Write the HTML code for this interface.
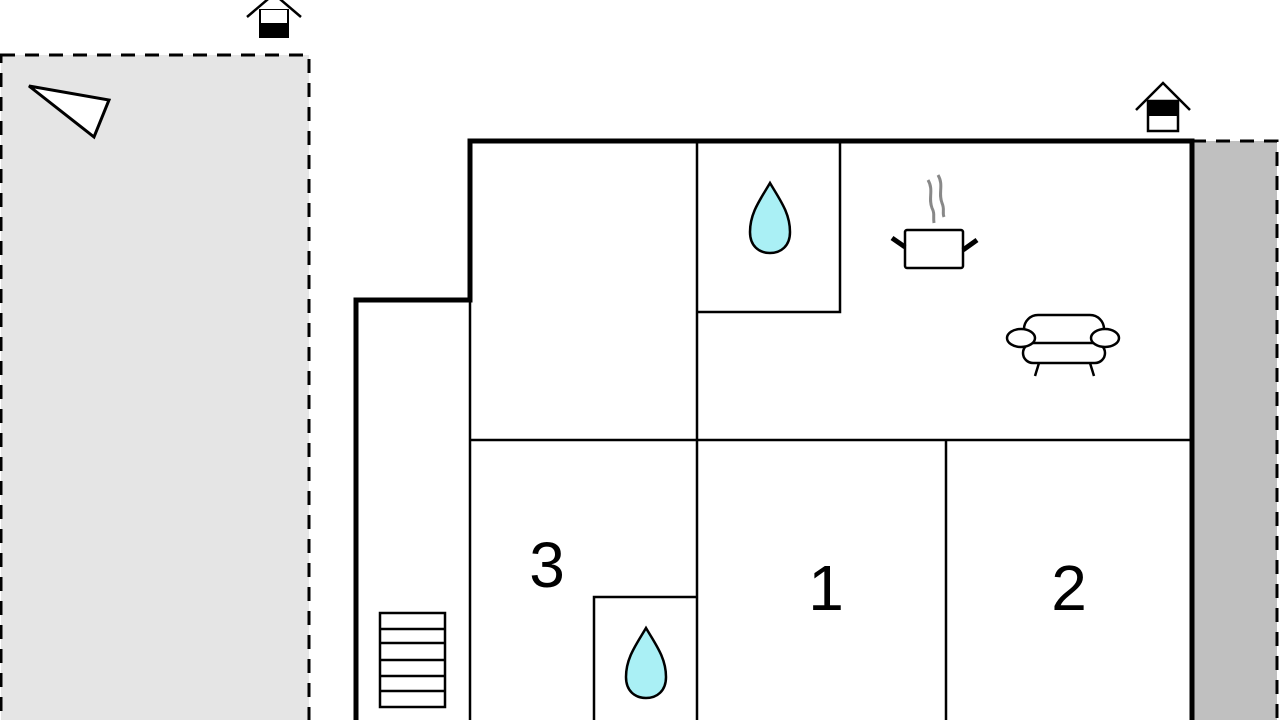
<!DOCTYPE html>
<html><head><style>body{margin:0;background:#fff}svg{display:block}</style></head><body>
<svg width="1280" height="720" viewBox="0 0 1280 720" xmlns="http://www.w3.org/2000/svg">
<rect x="1" y="55" width="308" height="680" fill="#e5e5e5" stroke="#000" stroke-width="3" stroke-dasharray="14,10"/>
<polygon points="29,86 109,100 94,137" fill="#fff" stroke="#000" stroke-width="3"/>
<rect x="1192" y="141" width="85" height="600" fill="#c0c0c0" stroke="#000" stroke-width="3" stroke-dasharray="14,10"/>
<rect x="1192" y="141" width="85" height="600" fill="none"/>
<!-- house top -->
<polyline points="247,17 274,-6 301,17" fill="none" stroke="#000" stroke-width="2.5"/>
<rect x="259" y="9" width="30" height="29" fill="#000"/>
<rect x="261" y="10" width="26" height="13" fill="#fff"/>
<!-- house right -->
<polyline points="1136,110 1163,83 1190,110" fill="none" stroke="#000" stroke-width="2.5"/>
<rect x="1148" y="101" width="30" height="30" fill="#fff" stroke="#000" stroke-width="2.5"/>
<rect x="1148" y="101" width="30" height="15" fill="#000"/>
<!-- inner walls -->
<g stroke="#000" stroke-width="2.5" fill="none">
<line x1="470" y1="300" x2="470" y2="720"/>
<line x1="697" y1="141" x2="697" y2="720"/>
<polyline points="697,312 840,312 840,141"/>
<line x1="470" y1="440" x2="1192" y2="440"/>
<line x1="946" y1="440" x2="946" y2="720"/>
<polyline points="594,720 594,597 697,597"/>
<rect x="380" y="613" width="65" height="94"/>
<line x1="380" y1="629" x2="445" y2="629"/>
<line x1="380" y1="643" x2="445" y2="643"/>
<line x1="380" y1="660" x2="445" y2="660"/>
<line x1="380" y1="676" x2="445" y2="676"/>
<line x1="380" y1="691" x2="445" y2="691"/>
</g>
<path d="M356,720 V300 H470 V141 H1192 V720" fill="none" stroke="#000" stroke-width="5"/>
<!-- drops -->
<path d="M770,183 C760,200 750,213 750,232 C750,246 759,253 770,253 C781,253 790,246 790,232 C790,213 780,200 770,183 Z" fill="#aaf0f5" stroke="#000" stroke-width="2.5"/>
<path d="M646,628 C636,645 626,658 626,677 C626,691 635,698 646,698 C657,698 666,691 666,677 C666,658 656,645 646,628 Z" fill="#aaf0f5" stroke="#000" stroke-width="2.5"/>
<!-- pot -->
<g stroke="#000" fill="none">
<rect x="905" y="230" width="58" height="38" rx="2" fill="#fff" stroke-width="2.5"/>
<line x1="892" y1="238" x2="905" y2="247" stroke-width="5"/>
<line x1="977" y1="240" x2="963" y2="250" stroke-width="5"/>
<path d="M928,180 C934,190 928,198 932,208 C935,214 933,216 934,223" stroke="#888" stroke-width="3"/>
<path d="M938,175 C944,185 938,193 942,203 C945,210 942,212 944,217" stroke="#888" stroke-width="3"/>
</g>
<!-- sofa -->
<g stroke="#000" stroke-width="2.5" fill="#fff">
<rect x="1024" y="315" width="80" height="40" rx="14"/>
<rect x="1023" y="343" width="82" height="20" rx="10"/>
<ellipse cx="1021" cy="338" rx="14" ry="9"/>
<ellipse cx="1105" cy="338" rx="14" ry="9"/>
<line x1="1039" y1="363" x2="1035" y2="376"/>
<line x1="1090" y1="363" x2="1094" y2="376"/>
</g>
<g font-family="Liberation Sans, sans-serif" font-size="64" text-anchor="middle" fill="#000">
<text x="547" y="587">3</text>
<text x="826" y="610">1</text>
<text x="1069" y="610">2</text>
</g>
</svg>
</body></html>
